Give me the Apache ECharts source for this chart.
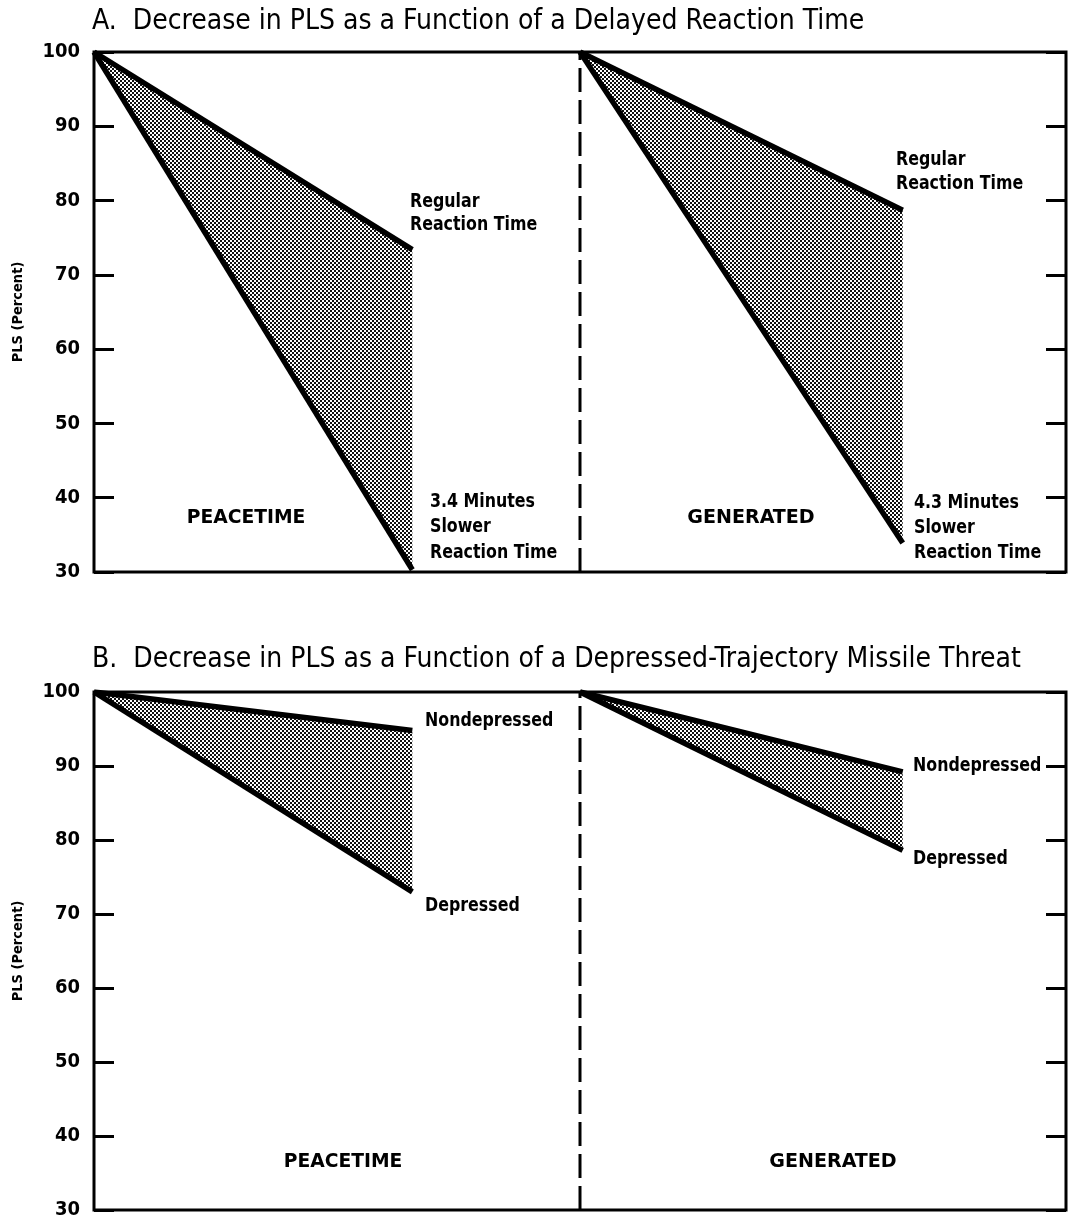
<!DOCTYPE html>
<html><head><meta charset="utf-8">
<script src="https://cdn.jsdelivr.net/npm/echarts@6/dist/echarts.min.js"></script>
<style>html,body{margin:0;padding:0;background:#fff}#c{width:1070px;height:1220px}</style>
</head><body><div id="c"></div>
<script>
// ---- data ----
const yTicks = [30, 40, 50, 60, 70, 80, 90, 100];
const halves = ['PEACETIME', 'GENERATED'];
const peaceX = [0, 0.655];       // left half of each box
const genX = [1, 1.664];         // right half of each box
const dividerX = [1, 1];
const dividerY = [30, 100];
// Panel A: Delayed reaction time
const aPeaceRegular = [100, 73.4];
const aPeaceSlower  = [100, 30.3];
const aGenRegular   = [100, 78.7];
const aGenSlower    = [100, 33.9];
// Panel B: Depressed-trajectory threat
const bPeaceNon = [100, 94.8];
const bPeaceDep = [100, 73.0];
const bGenNon   = [100, 89.2];
const bGenDep   = [100, 78.6];
const titles = [
  'A.  Decrease in PLS as a Function of a Delayed Reaction Time',
  'B.  Decrease in PLS as a Function of a Depressed-Trajectory Missile Threat'
];

// ---- styling ----
const FONT = "'Liberation Sans Narrow','DejaVu Sans Condensed','Liberation Sans',sans-serif";
function makePattern() {
  const c = document.createElement('canvas');
  c.width = 4; c.height = 4;
  const g = c.getContext('2d');
  g.fillStyle = '#ffffff'; g.fillRect(0, 0, 4, 4);
  g.fillStyle = '#111111';
  g.fillRect(0, 0, 2, 2); g.fillRect(2, 2, 2, 2);
  return c;
}
const pat = { image: makePattern(), repeat: 'repeat' };
const pts = (xs, ys) => xs.map((x, i) => [x, ys[i]]);

const grids = [
  { left: 94, top: 52, width: 972, height: 520 },
  { left: 94, top: 692, width: 972, height: 518 }
];

function lineSeries(g, xs, ys) {
  return { type: 'line', xAxisIndex: g, yAxisIndex: g * 2, data: pts(xs, ys), symbol: 'none',
    lineStyle: { color: '#000', width: 5.5, cap: 'butt', join: 'miter' }, z: 6, silent: true, animation: false };
}
function bandSeries(g, xs, up, lo) {
  return {
    type: 'custom', xAxisIndex: g, yAxisIndex: g * 2, z: 3, silent: true, animation: false,
    data: [[xs[0], xs[1], up[0], up[1], lo[0], lo[1]]],
    encode: { x: [0, 1], y: [2, 3, 4, 5] },
    renderItem: function (p, api) {
      const a = api.coord([api.value(0), api.value(2)]);
      const b = api.coord([api.value(1), api.value(3)]);
      const c = api.coord([api.value(1), api.value(5)]);
      const d = api.coord([api.value(0), api.value(4)]);
      return { type: 'polygon', shape: { points: [a, b, c, d] }, style: { fill: pat } };
    }
  };
}
function dividerSeries(g) {
  return { type: 'line', xAxisIndex: g, yAxisIndex: g * 2, data: pts(dividerX, dividerY), symbol: 'none',
    lineStyle: { color: '#000', width: 3, type: [24, 8] }, z: 4, silent: true, animation: false };
}

const xAxes = grids.map((_, g) => ({ type: 'value', gridIndex: g, min: 0, max: 2, show: false }));
const yAxes = [];
grids.forEach((_, g) => {
  const base = {
    type: 'value', gridIndex: g, min: yTicks[0], max: yTicks[yTicks.length - 1], interval: 10,
    axisLine: { show: false }, splitLine: { show: false },
    axisTick: { show: true, inside: true, length: 20, lineStyle: { color: '#000', width: 3 } }
  };
  yAxes.push(Object.assign({}, base, {
    position: 'left',
    axisLabel: { color: '#000', fontFamily: FONT, fontWeight: 'bold', fontSize: 20, margin: 14 },
    name: 'PLS (Percent)', nameLocation: 'middle', nameGap: 68,
    nameTextStyle: { color: '#000', fontFamily: FONT, fontWeight: 'bold', fontSize: 14.5 }
  }));
  yAxes.push(Object.assign({}, base, { position: 'right', axisLabel: { show: false } }));
});

const series = [
  bandSeries(0, peaceX, aPeaceRegular, aPeaceSlower),
  bandSeries(0, genX, aGenRegular, aGenSlower),
  lineSeries(0, peaceX, aPeaceRegular), lineSeries(0, peaceX, aPeaceSlower),
  lineSeries(0, genX, aGenRegular), lineSeries(0, genX, aGenSlower),
  dividerSeries(0),
  bandSeries(1, peaceX, bPeaceNon, bPeaceDep),
  bandSeries(1, genX, bGenNon, bGenDep),
  lineSeries(1, peaceX, bPeaceNon), lineSeries(1, peaceX, bPeaceDep),
  lineSeries(1, genX, bGenNon), lineSeries(1, genX, bGenDep),
  dividerSeries(1)
];

const LBL = 'bold 20px ' + FONT;
function txt(x, y, s, align, font, sx) {
  return { type: 'text', x: x, y: y, z: 20, silent: true, scaleX: sx == null ? 0.88 : sx,
    style: { text: s, x: 0, y: 0, font: font || LBL, fill: '#000', textAlign: align || 'left', textVerticalAlign: 'middle' } };
}
const TF = '28px ' + FONT;
const HF = 'bold 20px ' + FONT;
const graphics = [
  txt(92, 22, titles[0], 'left', TF, 1),
  txt(92, 660, titles[1], 'left', TF, 1),
  txt(410, 202, 'Regular'), txt(410, 225, 'Reaction Time'),
  txt(430, 502, '3.4 Minutes'), txt(430, 527, 'Slower'), txt(430, 553, 'Reaction Time'),
  txt(896, 160, 'Regular'), txt(896, 184, 'Reaction Time'),
  txt(914, 503, '4.3 Minutes'), txt(914, 528, 'Slower'), txt(914, 553, 'Reaction Time'),
  txt(246, 518, halves[0], 'center', HF, 1.04), txt(751, 518, halves[1], 'center', HF, 1.06),
  txt(425, 721, 'Nondepressed'), txt(425, 906, 'Depressed'),
  txt(913, 766, 'Nondepressed'), txt(913, 859, 'Depressed'),
  txt(343, 1162, halves[0], 'center', HF, 1.04), txt(833, 1162, halves[1], 'center', HF, 1.06)
];

const chart = echarts.init(document.getElementById('c'), null, { renderer: 'canvas' });
chart.setOption({
  backgroundColor: '#fff',
  animation: false,
  grid: grids.map(g => Object.assign({ show: true, borderColor: '#000', borderWidth: 3, containLabel: false }, g)),
  xAxis: xAxes,
  yAxis: yAxes,
  series: series,
  graphic: { elements: graphics }
});
</script></body></html>
